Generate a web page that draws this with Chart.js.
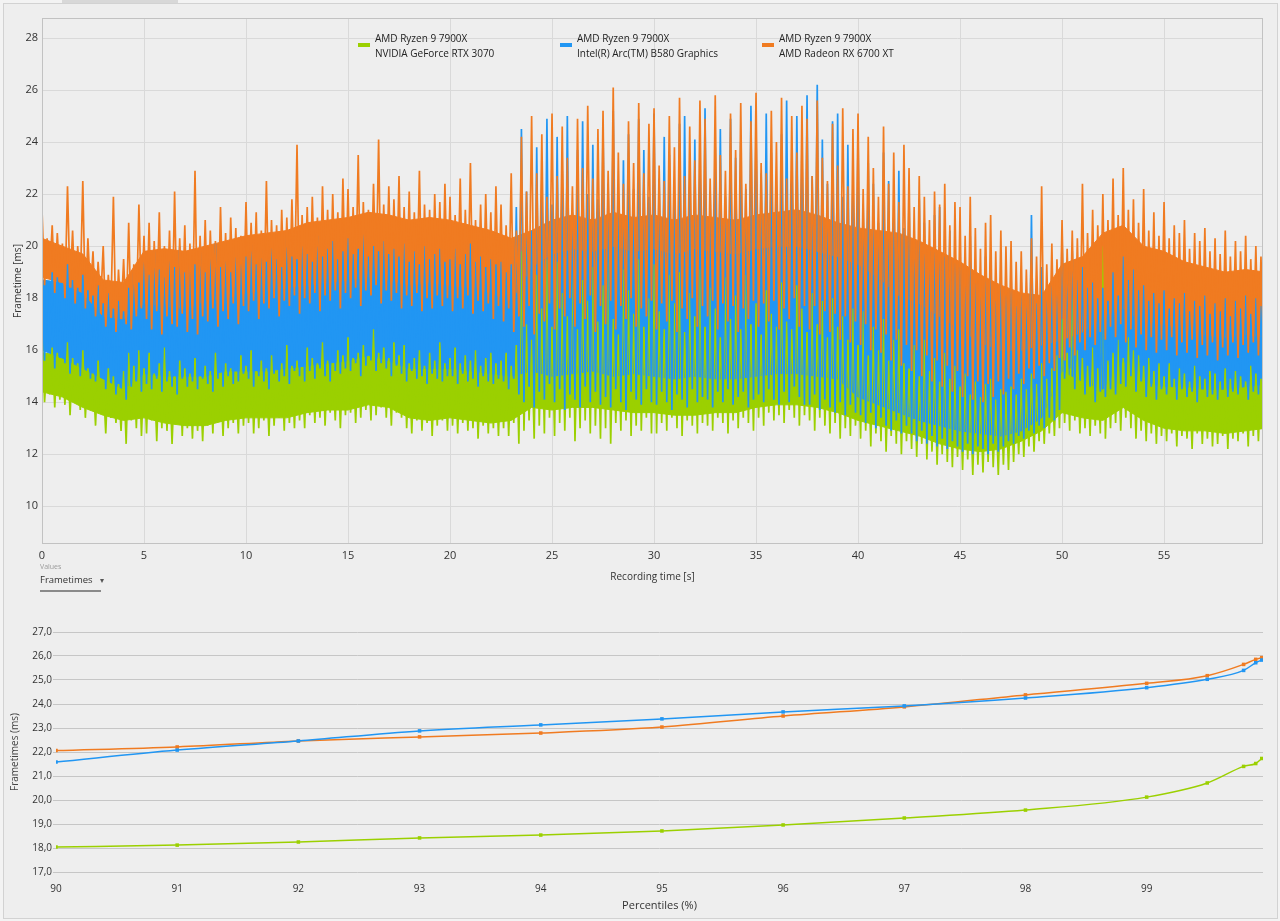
<!DOCTYPE html>
<html>
<head>
<meta charset="utf-8">
<script src="https://cdn.jsdelivr.net/npm/chart.js@4/dist/chart.umd.min.js"></script>
<style>
  body { margin: 0; background: #f3f3f3; font-family: "Segoe UI", "Open Sans", sans-serif; }
  #page { position: relative; width: 1280px; height: 921px; overflow: hidden; }
  #frame { position: absolute; left: 3px; top: 3px; width: 1273px; height: 914px; border: 1px solid #d2d2d2; background: #eeeeee; }
  #tab { position: absolute; left: 62px; top: 0; width: 116px; height: 3px; background: #d8d8d8; }
  .box { position: absolute; left: 0; width: 1280px; }
  #legend { position: absolute; top: 31px; left: 0; font-size: 10px; color: #222; line-height: 15px; }
  .item { position: absolute; white-space: nowrap; }
  .sw { position: absolute; left: -17px; top: 12px; width: 12px; height: 4px; }
  #values { position: absolute; left: 40px; top: 562px; white-space: nowrap; }
  #values .cap { font-size: 7px; color: #9a9a9a; }
  #values .sel { font-size: 9.5px; color: #333; margin-top: 2px; width: 61px; padding-bottom: 4px; border-bottom: 2px solid #8a8a8a; }
</style>
</head>
<body>
<div id="page">
  <div id="frame"></div>
  <div id="tab"></div>
  <div class="box" style="top:0;height:600px"><canvas id="frametimes" width="1280" height="600"></canvas></div>
  <div class="box" style="top:600px;height:321px"><canvas id="percentiles" width="1280" height="321"></canvas></div>
  <div id="legend"></div>
  <div id="values"><div class="cap">Values</div><div class="sel">Frametimes<span style="font-size:8px;color:#555;margin-left:7px">&#9662;</span></div></div>
</div>
<script>
// Series
const seriesNames = [
    ['AMD Ryzen 9 7900X', 'NVIDIA GeForce RTX 3070'],
    ['AMD Ryzen 9 7900X', 'Intel(R) Arc(TM) B580 Graphics'],
    ['AMD Ryzen 9 7900X', 'AMD Radeon RX 6700 XT']
];
const seriesColors = ['#9bd000', '#2196f3', '#f07b21'];

// Dense core of each run, one value per second (0..60 s)
const greenTop = [15.9,15.8,15.3,15.0,14.9,15.4,15.2,15.1,15.0,15.2, 15.3,15.2,15.3,15.5,15.6,15.6,15.8,15.6,15.4,15.4,
    15.6,15.5,15.4,15.3,15.8,15.6,15.8,15.7,15.6,15.5, 15.4,15.5,15.3,15.4,15.2,15.4,15.6,15.8,15.6,15.4,
    14.9,14.8,14.5,14.3,14.0,13.7,13.5,13.5,13.7,14.0, 15.5,15.0,14.8,15.7,15.0,14.9,14.9,14.9,14.8,14.9,15.0];
const greenBot = [14.4,14.2,13.8,13.5,13.3,13.4,13.2,13.1,13.1,13.3, 13.4,13.4,13.4,13.6,13.7,13.7,13.9,13.8,13.4,13.3,
    13.4,13.3,13.2,13.3,13.8,13.7,13.8,13.8,13.7,13.6, 13.6,13.5,13.5,13.6,13.6,13.8,13.9,13.9,13.8,13.6,
    13.3,13.1,12.9,12.7,12.4,12.2,12.1,12.2,12.5,12.9, 13.6,13.4,13.3,13.8,13.3,13.0,12.9,12.9,12.8,12.9,13.0];
const blueTop = [18.7,18.6,18.2,17.6,17.4,18.6,18.8,18.9,18.8,19.0, 19.2,19.1,19.2,19.3,19.3,19.4,19.5,19.3,19.1,19.2,
    19.2,19.1,18.9,18.8,19.6,19.8,20.0,19.8,20.0,19.8, 19.9,19.7,19.9,20.0,19.8,20.0,20.1,20.2,20.0,19.8,
    19.5,19.1,18.7,18.3,17.8,17.2,16.8,16.5,16.6,17.0, 18.8,18.0,17.5,18.5,17.6,17.3,17.2,17.1,17.0,17.2,17.3];
const blueBot = [16.0,15.7,15.3,14.9,14.5,15.1,15.0,15.0,15.0,15.2, 15.2,15.2,15.3,15.4,15.5,15.6,15.8,15.6,15.3,15.3,
    15.3,15.2,15.1,15.0,15.2,15.0,15.1,15.2,15.0,15.1, 15.0,14.9,15.0,14.9,14.9,15.0,15.1,15.1,15.0,14.9,
    14.2,13.9,13.6,13.3,13.1,12.9,12.8,12.7,12.9,13.4, 15.2,14.8,14.5,15.6,14.8,14.6,14.6,14.5,14.5,14.6,14.7];
const orangeTop = [20.3,20.0,19.7,18.7,18.6,19.8,19.9,19.8,20.0,20.2, 20.4,20.5,20.6,20.9,21.0,21.1,21.3,21.2,21.0,21.1,
    21.0,20.8,20.6,20.3,20.6,21.0,21.2,21.0,21.3,21.1, 21.2,21.0,21.2,21.1,21.0,21.2,21.3,21.4,21.2,20.9,
    20.7,20.6,20.5,20.2,19.8,19.4,18.9,18.5,18.2,18.1, 19.3,19.6,20.5,20.8,20.0,19.8,19.4,19.2,19.0,19.1,19.0];
const orangeBot = [18.8,18.6,18.2,17.3,17.2,17.8,17.7,17.6,17.9,18.0, 18.2,18.3,18.4,18.5,18.6,18.7,18.8,18.7,18.5,18.6,
    18.5,18.4,18.2,17.9,19.2,19.7,19.9,19.8,20.0,19.8, 19.9,19.7,19.9,19.8,19.7,19.9,20.0,20.0,19.8,19.6,
    19.3,18.8,18.1,17.8,17.3,16.8,16.3,16.0,16.0,16.2, 16.4,16.7,17.3,17.6,17.1,17.0,16.8,16.6,16.5,16.6,16.5];

// Frame to frame swing, one pair every quarter second (0 .. 59.75 s): high frame, then low frame
const greenHigh = [
    16.8,15.6,16.1,15.9,15.4,16.3,15.7,15.5,16.0,15.3, 15.1,15.6,14.8,15.3,15.0,14.7,15.2,15.9,15.4,16.0,
    15.3,15.9,15.1,15.5,16.1,15.2,15.0,15.6,15.3,15.1, 15.7,15.0,15.4,15.2,15.9,15.1,15.5,15.3,15.0,15.8,
    15.4,16.0,15.2,15.6,15.3,15.8,15.1,15.5,16.2,15.4, 15.6,15.3,16.1,15.7,15.5,16.3,15.6,15.4,16.0,15.8,
    16.5,15.7,15.9,16.2,15.6,16.8,15.9,16.1,15.7,16.3, 15.8,16.2,15.5,15.7,16.0,15.4,15.9,15.6,16.3,15.5,
    15.7,16.1,15.5,15.8,15.6,16.0,15.4,15.7,15.9,15.5, 15.6,15.9,15.4,16.2,19.8,17.0,16.4,18.9,17.6,19.5,
    16.9,19.4,18.2,17.3,19.6,16.8,18.7,17.9,19.2,17.1, 18.5,19.7,17.2,16.6,19.1,18.3,17.4,19.5,16.9,18.0,
    19.3,17.5,16.8,18.9,17.8,19.0,16.7,18.2,17.3,19.1, 16.9,18.4,17.6,16.5,18.8,17.2,18.1,16.8,18.9,17.0,
    17.8,16.6,18.3,17.4,16.9,18.6,17.1,16.8,18.5,17.6, 16.7,18.2,17.0,17.9,16.5,18.0,16.9,17.3,16.4,17.6,
    16.2,17.5,15.8,16.9,16.0,17.2,15.6,16.4,16.8,15.5, 15.3,16.2,15.0,16.4,15.2,15.7,14.8,15.9,14.9,15.4,
    14.6,15.1,14.3,14.8,14.2,14.7,14.9,14.1,14.5,14.4, 14.6,14.3,14.9,14.5,15.1,14.7,15.5,14.9,15.3,15.8,
    17.2,15.9,19.2,16.0,15.7,15.4,16.1,15.3,20.0,15.6, 15.9,16.4,15.7,16.5,16.0,15.8,15.4,15.7,15.2,15.5,
    15.0,15.5,14.9,15.3,15.1,14.8,15.4,15.0,14.9,15.2, 15.1,14.8,15.3,14.9,15.2,15.0,14.8,15.4,15.1,14.9];
const greenLow = [
    14.0,14.3,13.8,14.1,13.9,13.5,14.0,13.7,13.4,13.9, 13.1,13.6,12.8,13.4,13.2,12.9,12.4,13.3,13.0,12.7,
    12.8,13.3,12.5,13.0,12.9,12.4,13.2,12.7,13.0,12.6, 12.9,12.5,13.1,12.8,13.3,12.7,13.0,13.2,12.8,13.1,
    13.2,12.8,13.0,13.3,12.7,13.1,13.4,12.9,13.2,13.0, 13.3,13.0,13.5,13.2,13.4,13.1,13.6,13.3,13.0,13.5,
    13.6,13.2,13.4,13.7,13.3,13.5,13.8,13.4,13.1,13.6, 13.4,13.0,12.8,13.3,12.9,13.2,12.7,13.1,13.3,12.9,
    13.1,12.8,13.2,12.9,13.0,12.6,13.1,12.8,13.0,12.7, 13.0,12.7,13.2,12.4,12.9,13.3,12.6,13.1,12.8,13.4,
    12.7,13.2,12.9,13.4,12.5,13.0,13.3,12.8,13.1,12.6, 13.0,12.4,13.2,12.9,13.3,12.7,13.1,12.9,13.4,12.8,
    12.8,13.2,12.9,13.4,13.0,12.7,13.3,13.1,12.8,13.2, 13.1,12.9,13.4,13.2,12.8,13.3,13.0,13.4,13.2,12.9,
    13.4,13.1,13.6,13.3,13.5,13.2,13.7,13.4,13.1,13.5, 13.3,12.9,13.4,13.1,12.8,13.2,12.6,13.0,12.7,13.1,
    12.6,12.9,12.3,12.8,12.5,12.1,12.7,12.4,12.0,12.5, 12.2,11.9,12.4,11.8,12.1,11.6,12.0,11.7,11.5,11.9,
    11.4,11.8,11.2,11.6,11.3,11.7,11.5,11.2,11.6,11.4, 11.7,12.0,11.9,12.3,12.1,12.5,12.4,12.8,12.7,13.0,
    13.2,12.9,13.3,12.8,13.0,12.7,13.1,12.8,12.6,13.0, 13.2,12.9,13.4,13.0,12.6,12.9,12.5,12.8,12.4,12.7,
    12.5,12.8,12.3,12.7,12.6,12.2,12.8,12.4,12.6,12.3, 12.4,12.7,12.2,12.6,12.5,12.8,12.3,12.7,12.5,12.9];
const blueHigh = [
    19.2,18.6,19.0,18.8,18.5,19.3,18.7,18.4,18.9,18.3, 18.1,18.5,17.8,18.2,17.6,17.9,17.5,18.4,19.0,18.6,
    19.5,18.9,19.8,19.1,18.8,19.6,19.2,20.0,19.0,19.4, 19.3,19.9,19.0,19.5,20.1,19.2,19.6,19.0,19.8,19.3,
    19.6,20.2,19.3,19.8,19.4,20.0,19.5,19.2,20.3,19.6, 19.5,20.1,19.7,19.4,20.4,19.6,19.9,20.2,19.5,19.8,
    20.3,19.7,19.9,20.5,19.6,20.0,19.8,20.2,19.7,19.9, 19.6,20.1,19.4,19.8,19.3,20.0,19.5,19.7,19.9,19.4,
    19.5,19.9,19.3,19.7,20.1,19.4,19.6,19.2,19.5,19.3, 19.4,19.0,19.3,21.5,24.5,22.1,20.6,23.8,22.5,24.9,
    21.6,24.2,22.9,25.0,21.3,23.7,24.8,22.0,23.9,21.8, 24.6,22.4,25.2,21.5,23.3,24.3,22.2,24.9,23.7,21.9,
    25.1,22.6,24.2,23.5,21.7,24.7,25.0,22.3,24.1,23.0, 25.3,22.1,23.8,24.5,21.9,24.9,23.4,24.0,22.2,25.4,
    24.6,22.8,25.1,23.6,21.8,24.3,25.6,22.5,25.0,23.9, 25.8,22.7,26.2,24.1,22.4,24.8,25.1,21.9,23.9,22.6,
    24.3,21.6,23.2,22.4,20.9,23.6,22.5,21.1,22.9,20.7, 22.0,20.4,21.8,20.9,19.8,21.2,21.5,19.6,20.6,19.4,
    20.1,18.7,20.4,19.0,18.3,19.6,19.3,17.9,18.8,18.1, 19.0,17.7,18.6,18.2,21.2,17.8,19.2,18.0,18.8,18.5,
    20.3,19.1,19.8,18.7,19.2,18.4,18.6,18.0,18.4,17.9, 19.0,18.1,19.6,18.7,19.1,18.3,18.5,17.9,18.2,17.8,
    18.3,17.6,18.0,17.8,18.2,17.5,17.9,17.7,18.1,17.4, 17.8,17.5,18.0,17.3,17.9,17.6,18.1,17.4,18.0,17.7];
const blueLow = [
    15.6,15.9,15.3,15.7,15.5,15.1,15.8,15.0,15.4,14.9, 14.8,15.2,14.5,14.9,14.3,14.7,14.1,14.6,14.8,14.4,
    14.7,14.5,14.9,14.4,14.8,14.6,14.3,14.9,14.6,14.8, 14.5,14.9,14.7,14.4,14.9,14.6,15.0,14.7,14.8,15.1,
    14.9,14.6,15.0,14.8,14.5,15.1,14.8,15.0,14.7,15.2, 15.0,14.8,15.2,14.9,15.3,15.0,14.8,15.2,15.1,15.3,
    15.2,15.5,15.0,15.4,15.6,15.2,15.5,15.3,15.0,15.4, 15.1,14.8,15.2,14.9,15.0,14.7,15.1,14.9,14.8,15.0,
    15.0,14.7,15.1,14.8,14.9,14.6,15.0,14.8,14.7,14.9, 14.8,14.5,14.9,14.3,14.0,14.6,13.8,14.4,14.1,14.7,
    14.0,14.5,13.7,14.3,14.1,13.8,14.6,14.0,14.4,13.9, 14.2,13.8,14.5,14.0,13.7,14.4,14.1,13.9,14.5,14.0,
    13.9,14.4,14.0,13.7,14.3,14.1,13.8,14.5,14.0,14.2, 14.1,13.8,14.4,14.0,14.5,13.9,14.2,14.4,13.8,14.1,
    14.3,14.0,14.5,14.1,13.9,14.4,14.0,14.6,14.2,13.9, 13.9,14.3,13.7,14.1,13.8,13.6,14.0,13.5,13.9,13.6,
    13.5,13.2,13.6,13.0,13.4,13.1,12.9,13.3,12.8,13.1, 12.8,12.5,12.9,12.4,12.7,12.3,12.6,12.2,12.5,12.3,
    12.1,12.4,12.0,12.3,12.2,12.0,12.4,12.1,12.3,12.5, 12.4,12.7,12.6,12.9,12.8,13.1,13.0,13.4,13.3,13.7,
    14.9,15.3,14.5,14.9,14.3,14.6,14.0,14.4,14.2,14.5, 14.3,14.7,14.6,15.0,14.4,14.8,14.2,14.6,14.1,14.5,
    14.3,14.6,14.1,14.5,14.2,14.4,14.0,14.5,14.2,14.3, 14.1,14.5,14.2,14.4,14.3,14.6,14.1,14.4,14.3,14.6];
const orangeHigh = [
    21.4,20.3,20.8,20.5,20.1,22.3,20.6,20.0,22.5,20.3, 19.8,19.4,20.0,18.9,21.9,19.1,19.5,20.9,19.3,21.6,
    20.4,20.9,20.2,21.3,20.0,20.6,22.1,20.3,20.8,20.1, 22.9,20.4,21.0,20.6,20.2,21.5,20.5,21.1,20.7,20.4,
    21.7,20.9,21.3,20.6,22.5,21.0,20.8,21.4,21.1,21.8, 23.9,21.2,21.5,21.9,21.1,22.3,21.4,22.0,21.3,22.6,
    22.2,21.5,23.5,21.7,21.4,22.4,24.1,21.6,22.3,21.8, 22.7,21.5,22.1,21.3,22.9,21.6,21.4,22.0,21.7,22.4,
    21.9,21.2,22.6,21.4,23.2,21.0,21.6,22.0,21.3,22.3, 21.6,20.8,22.8,20.6,24.2,22.1,25.0,22.8,24.3,21.9,
    25.1,22.7,24.6,23.4,22.3,24.9,23.0,25.4,22.6,24.5, 25.2,22.9,26.1,23.6,22.4,24.8,23.2,25.5,22.8,24.7,
    25.3,23.1,22.5,25.0,23.8,25.7,22.7,24.6,23.3,25.6, 24.9,22.6,25.8,23.5,22.9,25.1,23.7,25.5,22.4,24.8,
    25.9,23.2,22.8,25.2,24.0,25.7,22.6,25.0,23.6,25.4, 24.9,22.7,25.6,23.4,22.5,24.7,23.1,25.3,22.3,24.5,
    25.1,22.2,24.2,23.0,21.9,24.6,22.4,23.6,21.7,23.9, 23.0,21.5,22.7,21.9,21.0,22.1,21.6,22.4,20.8,21.7,
    21.5,20.4,21.9,20.7,19.9,20.9,21.2,19.8,20.6,20.0, 20.2,19.4,19.8,19.1,20.3,19.6,22.3,19.3,20.1,19.5,
    21.0,19.9,20.6,20.3,22.4,20.5,21.4,20.8,22.0,21.0, 22.6,21.2,23.0,21.4,21.8,20.9,22.2,20.6,21.3,20.4,
    21.7,20.3,20.8,20.5,21.0,19.9,20.5,20.2,20.7,19.8, 20.3,19.7,20.6,19.6,20.2,19.8,20.4,19.5,20.0,19.6];
const orangeLow = [
    18.5,18.9,18.2,18.6,18.0,18.4,17.8,18.3,17.6,18.1, 17.3,17.8,16.9,17.4,16.7,17.2,17.0,16.8,17.3,17.6,
    17.2,16.8,17.5,16.6,17.3,17.0,16.9,17.4,16.7,17.2, 16.6,17.3,17.1,17.6,16.9,17.5,17.2,17.8,17.0,17.7,
    17.5,17.9,17.2,17.8,17.6,18.0,17.3,17.9,17.7,18.1, 17.4,18.0,17.8,18.2,17.5,18.1,17.9,18.3,17.6,18.2,
    18.0,18.4,17.7,18.3,18.1,18.5,17.8,18.3,17.9,18.2, 17.6,18.1,17.7,18.2,17.5,18.0,17.6,18.1,17.7,18.0,
    17.5,18.0,17.6,18.1,17.4,17.9,17.5,17.8,17.2,17.7, 17.1,17.6,16.7,17.3,16.9,17.7,16.6,17.4,17.1,17.8,
    16.8,17.6,17.3,18.0,16.9,17.8,17.2,18.1,16.7,17.7, 17.0,17.9,16.8,17.7,17.2,18.0,16.9,17.6,17.3,17.9,
    16.8,17.8,17.1,17.9,16.7,17.6,17.2,18.0,16.9,17.7, 17.3,17.9,16.8,17.8,17.1,17.7,16.7,17.6,17.2,17.9,
    16.9,17.8,17.1,17.9,16.8,17.6,17.2,18.0,16.9,17.7, 16.8,17.7,16.6,17.5,16.7,17.4,16.4,17.3,16.3,17.1,
    16.2,17.0,16.0,16.8,15.9,16.6,15.6,16.4,15.4,16.2, 15.2,16.0,15.0,15.8,14.8,15.6,14.6,15.4,14.4,15.2,
    14.2,15.0,14.1,14.8,14.0,14.7,14.2,14.8,14.3,14.9, 14.5,15.1,14.7,15.3,14.9,15.4,15.0,15.5,15.2,15.7,
    15.6,16.1,15.8,16.3,16.0,16.5,16.2,16.7,16.4,16.9, 16.5,17.0,16.3,16.8,16.1,16.6,16.0,16.5,15.9,16.4,
    16.0,16.5,15.8,16.3,15.9,16.4,15.7,16.2,15.8,16.3, 15.6,16.1,15.8,16.3,15.7,16.2,15.9,16.3,15.8,16.2];

// Percentile chart
const percentiles = [90, 91, 92, 93, 94, 95, 96, 97, 98, 99, 99.5, 99.8, 99.9, 99.95];
const greenPct = [18.04,18.12,18.25,18.42,18.54,18.71,18.96,19.25,19.58,20.12,20.71,21.40,21.52,21.73];
const bluePct = [21.58,22.08,22.46,22.88,23.13,23.38,23.67,23.92,24.25,24.68,25.03,25.40,25.72,25.83];
const orangePct = [22.06,22.21,22.46,22.63,22.79,23.04,23.50,23.88,24.38,24.86,25.18,25.65,25.86,25.93];

const CORE_STEP = 1;      // seconds between core values
const SWING_STEP = 0.25;  // seconds between high/low pairs
const FONT = '"Segoe UI", "Open Sans", sans-serif';

function corePoints(values) {
    return values.map((v, i) => ({ x: i * CORE_STEP, y: v }));
}

function swingPoints(highs, lows) {
    // high frame then low frame, like the raw frametime trace
    const pts = [];
    highs.forEach((h, k) => {
        const t = k * SWING_STEP;
        pts.push({ x: t, y: h }, { x: t + SWING_STEP / 2, y: lows[k] });
    });
    return pts;
}

function coreDatasets(top, bot, color, order) {
    return [
        { data: corePoints(top), borderColor: color, backgroundColor: color, borderWidth: 1, fill: '+1', order: order + 1 },
        { data: corePoints(bot), borderColor: color, borderWidth: 1, fill: false, order: order }
    ];
}

function swingDataset(highs, lows, color, order) {
    return { data: swingPoints(highs, lows), borderColor: color, borderWidth: 1.7, fill: false, order: order };
}

// legend
const legend = document.getElementById('legend');
[358, 560, 762].forEach((left, i) => {
    const el = document.createElement('div');
    el.className = 'item';
    el.style.left = (left + 17) + 'px';
    el.innerHTML = '<div class="sw" style="background:' + seriesColors[i] + '"></div>' +
        seriesNames[i][0] + '<br>' + seriesNames[i][1];
    legend.appendChild(el);
});

const framePlugin = {
    id: 'plotFrame',
    afterDraw(chart) {
        const { ctx, chartArea: a } = chart;
        ctx.save();
        ctx.strokeStyle = '#c2c2c2';
        ctx.lineWidth = 1;
        ctx.strokeRect(a.left + 0.5, a.top + 0.5, a.right - a.left - 1, a.bottom - a.top - 1);
        ctx.restore();
    }
};

// cores first (green, blue, orange), then the swings on top in the same order
const frameDatasets = [
    ...coreDatasets(greenTop, greenBot, seriesColors[0], 10),
    ...coreDatasets(blueTop, blueBot, seriesColors[1], 8),
    ...coreDatasets(orangeTop, orangeBot, seriesColors[2], 6),
    swingDataset(greenHigh, greenLow, seriesColors[0], 3),
    swingDataset(blueHigh, blueLow, seriesColors[1], 2),
    swingDataset(orangeHigh, orangeLow, seriesColors[2], 1)
];

new Chart(document.getElementById('frametimes').getContext('2d'), {
    type: 'line',
    data: { datasets: frameDatasets },
    options: {
        responsive: false,
        animation: false,
        elements: { point: { radius: 0, hoverRadius: 0 }, line: { tension: 0 } },
        layout: { padding: { left: 0, top: 18, right: 17, bottom: 0 } },
        plugins: { legend: { display: false }, tooltip: { enabled: false } },
        scales: {
            x: {
                type: 'linear',
                min: 0,
                max: 59.85,
                afterFit: (scale) => { scale.height = 56; },
                grid: { color: '#d9d9d9', drawTicks: false },
                border: { display: false },
                ticks: { stepSize: 5, includeBounds: false, padding: 5, color: '#333', font: { family: FONT, size: 11 } },
                title: { display: true, text: 'Recording time [s]', color: '#333', font: { family: FONT, size: 10 }, padding: { bottom: 17 } }
            },
            y: {
                min: 8.55,
                max: 28.77,
                afterFit: (scale) => { scale.width = 42; },
                grid: { color: '#d9d9d9', drawTicks: false },
                border: { display: false },
                ticks: { stepSize: 2, includeBounds: false, padding: 4, color: '#333', font: { family: FONT, size: 11 } },
                title: { display: true, text: 'Frametime [ms]', color: '#333', font: { family: FONT, size: 10 }, padding: { top: 12 } }
            }
        }
    },
    plugins: [framePlugin]
});

new Chart(document.getElementById('percentiles').getContext('2d'), {
    type: 'line',
    data: {
        datasets: [greenPct, bluePct, orangePct].map((vals, i) => ({
            data: vals.map((v, j) => ({ x: percentiles[j], y: v })),
            borderColor: seriesColors[i],
            backgroundColor: seriesColors[i],
            borderWidth: 1.5,
            pointStyle: 'rect',
            pointRadius: 2.5,
            pointBorderWidth: 0,
            cubicInterpolationMode: 'monotone',
            fill: false
        }))
    },
    options: {
        responsive: false,
        animation: false,
        layout: { padding: { left: 0, top: 32, right: 17, bottom: 8 } },
        plugins: { legend: { display: false }, tooltip: { enabled: false } },
        scales: {
            x: {
                type: 'linear',
                min: 90,
                max: 99.96,
                afterFit: (scale) => { scale.height = 41; },
                grid: { display: false },
                border: { display: false },
                ticks: { stepSize: 1, includeBounds: false, padding: 3, color: '#333', font: { family: FONT, size: 10 } },
                title: { display: true, text: 'Percentiles (%)', color: '#333', font: { family: FONT, size: 11 }, padding: { bottom: 1 } }
            },
            y: {
                min: 17,
                max: 27,
                afterFit: (scale) => { scale.width = 56; },
                grid: { color: '#c6c6c6', tickLength: 3 },
                border: { display: false },
                ticks: {
                    stepSize: 1, padding: 1, color: '#333', font: { family: FONT, size: 10 },
                    callback: (v) => v.toFixed(1).replace('.', ',')
                },
                title: { display: true, text: 'Frametimes (ms)', color: '#444', font: { family: FONT, size: 10 }, padding: { top: 9 } }
            }
        }
    }
});
</script>
</body>
</html>
